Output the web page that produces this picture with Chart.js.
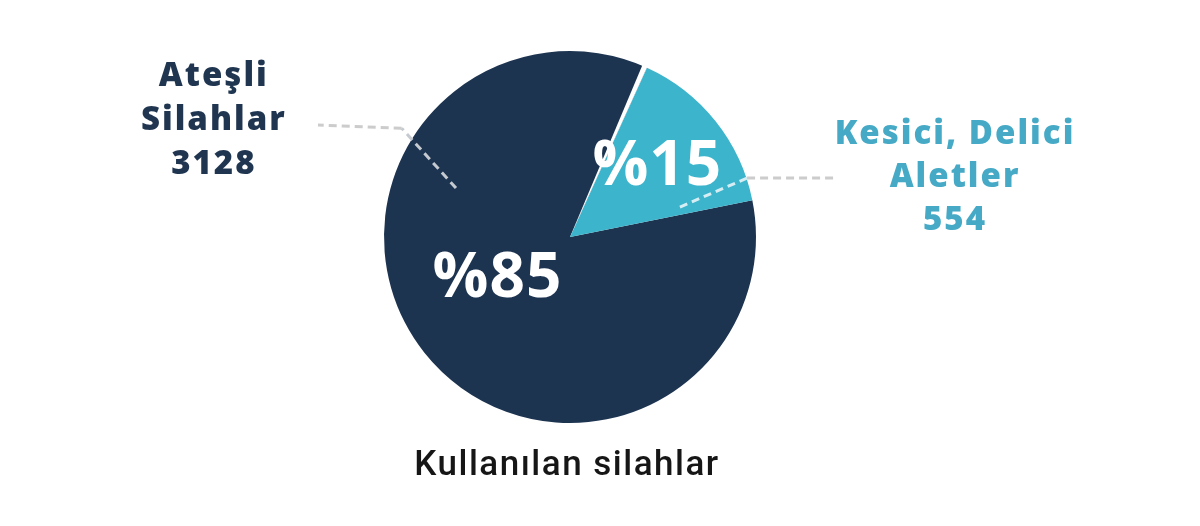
<!DOCTYPE html>
<html lang="tr">
<head>
<meta charset="utf-8">
<script src="https://cdn.jsdelivr.net/npm/chart.js@4.4.1/dist/chart.umd.min.js"></script>
<style>
  html, body { margin: 0; padding: 0; background: #fff; }
</style>
</head>
<body>
<canvas id="pieChart" width="1200" height="526"></canvas>
<script>
const categories = ['Ateşli Silahlar', 'Kesici, Delici Aletler'];
const labelLines = [['Ateşli', 'Silahlar'], ['Kesici, Delici', 'Aletler']];
const counts = [3128, 554];
const sliceColors = ['#1d3451', '#3bb4cc'];
const textColors = ['#1f3550', '#46aac6'];
const chartTitle = 'Kullanılan silahlar';

// leader lines, as fractions of the radius from the centre: [inside, edge, outer end]
const leaders = [
  [[-0.613, -0.263], [-0.905, -0.585], [-1.355, -0.602]],
  [[0.591, -0.161], [0.952, -0.317], [1.435, -0.317]]
];

function drawDashed(ctx, pts, color) {
  ctx.strokeStyle = color;
  ctx.lineWidth = 3;
  ctx.setLineDash([8, 5]);
  ctx.beginPath();
  ctx.moveTo(pts[0][0], pts[0][1]);
  for (let i = 1; i < pts.length; i++) ctx.lineTo(pts[i][0], pts[i][1]);
  ctx.stroke();
}

const calloutPlugin = {
  id: 'callouts',
  afterDatasetsDraw(chart) {
    const ctx = chart.ctx;
    const arcs = chart.getDatasetMeta(0).data;
    const cx = arcs[0].x, cy = arcs[0].y, R = arcs[0].outerRadius;
    const total = counts.reduce((a, b) => a + b, 0);
    ctx.save();

    // thin white wedge where the small slice starts
    const a0 = arcs[1].startAngle;
    ctx.fillStyle = '#fff';
    ctx.beginPath();
    ctx.moveTo(cx, cy);
    ctx.arc(cx, cy, R + 1, a0 - 0.028, a0);
    ctx.closePath();
    ctx.fill();

    // leader lines
    leaders.forEach((l, i) => {
      const p = l.map(q => [cx + q[0] * R, cy + q[1] * R]);
      drawDashed(ctx, [p[0], p[1]], i === 0 ? '#c5cad1' : '#d6eef3');
      drawDashed(ctx, [p[1], p[2]], '#cccccc');
    });
    ctx.setLineDash([]);

    // percentages
    ctx.fillStyle = '#fff';
    ctx.font = '700 62px "Open Sans"';
    ctx.textAlign = 'center';
    ctx.textBaseline = 'middle';
    ctx.letterSpacing = '1px';
    const pct = counts.map(v => '%' + Math.round(v / total * 100));
    ctx.fillText(pct[0], cx - 0.39 * R, cy + 0.23 * R);
    const mid = (arcs[1].startAngle + arcs[1].endAngle) / 2;
    ctx.fillText(pct[1], cx + Math.cos(mid) * 0.6 * R, cy + Math.sin(mid) * 0.6 * R);

    // side labels
    ctx.font = '800 33px "Open Sans"';
    ctx.letterSpacing = '2px';
    const blocks = [
      { x: cx - 1.915 * R, y: cy - 0.86 * R },
      { x: cx + 2.07 * R, y: cy - 0.55 * R }
    ];
    const pitch = [44, 43];
    blocks.forEach((b, i) => {
      ctx.fillStyle = textColors[i];
      const lines = labelLines[i].concat(String(counts[i]));
      lines.forEach((t, j) => ctx.fillText(t, b.x, b.y + j * pitch[i]));
    });

    // title under the pie
    ctx.fillStyle = '#161616';
    ctx.font = '500 35px Roboto';
    ctx.letterSpacing = '1.5px';
    ctx.fillText(chartTitle, cx - 3, cy + 1.232 * R);
    ctx.restore();
  }
};

new Chart(document.getElementById('pieChart').getContext('2d'), {
  type: 'pie',
  data: {
    labels: categories,
    datasets: [{
      data: counts,
      backgroundColor: sliceColors,
      borderWidth: 0
    }]
  },
  options: {
    responsive: false,
    animation: false,
    rotation: 78.6,
    layout: { padding: { top: 51, bottom: 103, left: 200, right: 260 } },
    plugins: {
      legend: { display: false },
      tooltip: { enabled: false },
      title: { display: false }
    }
  },
  plugins: [calloutPlugin]
});
</script>
</body>
</html>
